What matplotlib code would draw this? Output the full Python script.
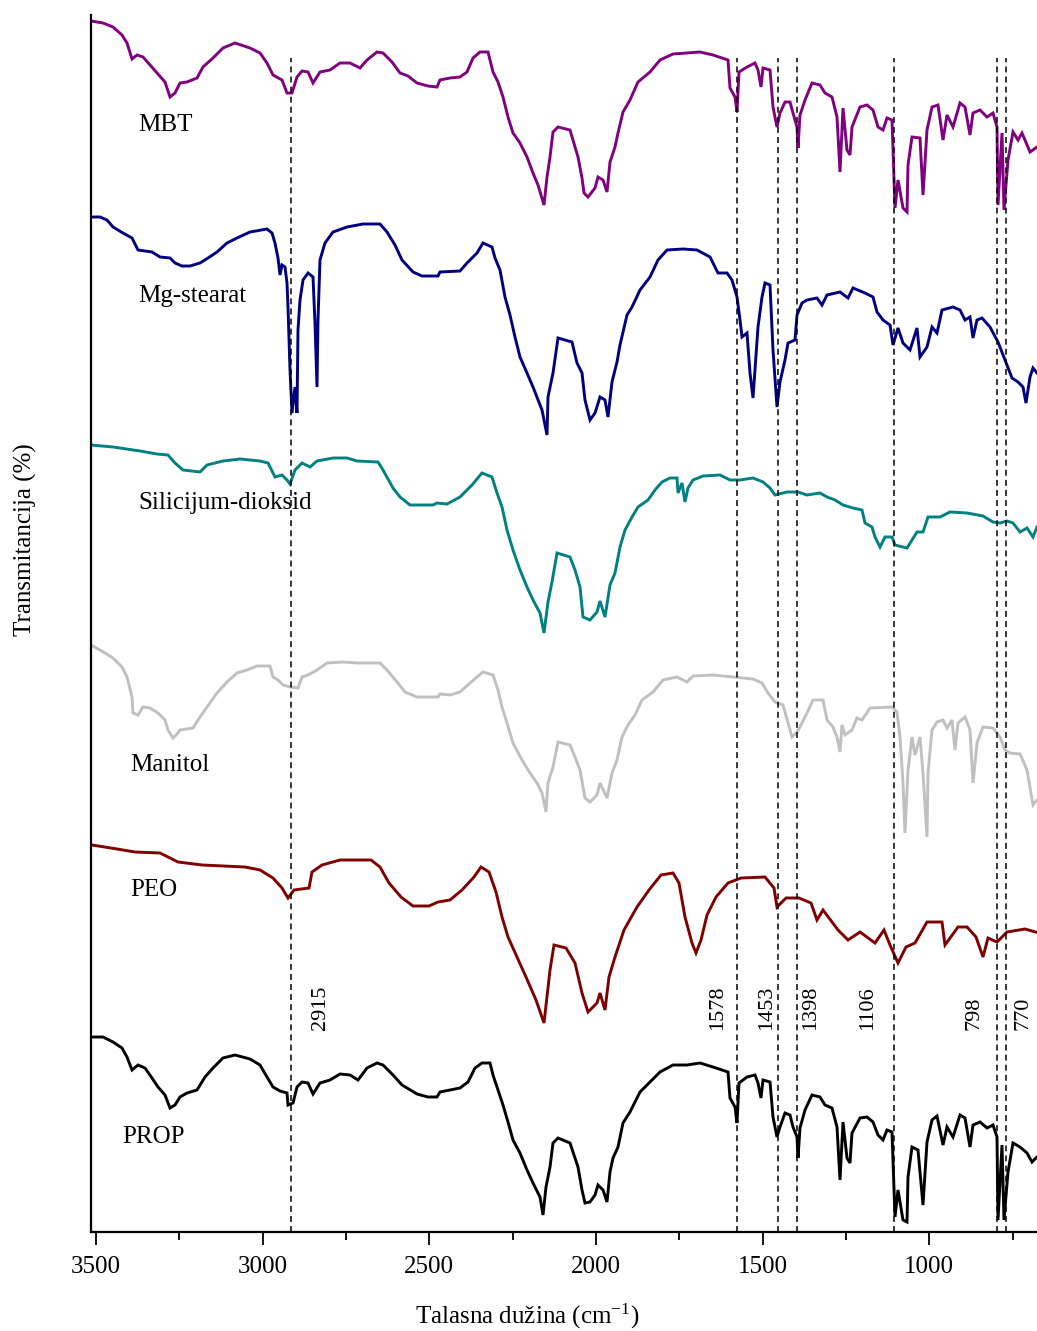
import matplotlib
matplotlib.use("Agg")
import matplotlib.pyplot as plt

plt.rcParams['font.family'] = ['Liberation Serif', 'DejaVu Serif']
plt.rcParams['mathtext.fontset'] = 'custom'
plt.rcParams['mathtext.rm'] = 'Liberation Serif'
plt.rcParams['mathtext.it'] = 'Liberation Serif:italic'

# ---------------- data (wavenumber cm-1, transmittance a.u., stacked) ----------------
mbt_wn = [3515, 3479, 3449, 3422, 3407, 3392, 3377, 3359, 3338, 3317, 3293, 3278, 3263, 3248, 3227, 3197,
          3179, 3149, 3119, 3083, 3038, 3008, 2987, 2969, 2942, 2927, 2912, 2897, 2882, 2864, 2849, 2828,
          2798, 2768, 2738, 2708, 2687, 2657, 2639, 2612, 2588, 2564, 2537, 2504, 2477, 2468, 2438, 2408,
          2387, 2369, 2348, 2324, 2309, 2294, 2279, 2264, 2249, 2228, 2207, 2189, 2174, 2156, 2147, 2138,
          2129, 2114, 2078, 2069, 2054, 2042, 2036, 2024, 2003, 1994, 1979, 1967, 1958, 1943, 1934, 1919,
          1898, 1874, 1838, 1808, 1769, 1727, 1688, 1649, 1604, 1598, 1583, 1577, 1571, 1547, 1523, 1514,
          1505, 1499, 1478, 1469, 1457, 1448, 1433, 1418, 1409, 1397, 1394, 1388, 1373, 1352, 1328, 1313,
          1292, 1277, 1268, 1259, 1247, 1238, 1232, 1208, 1187, 1169, 1154, 1139, 1127, 1112, 1109, 1103,
          1094, 1079, 1067, 1064, 1052, 1028, 1019, 1007, 992, 974, 959, 947, 929, 908, 893, 878,
          869, 848, 827, 809, 797, 794, 782, 776, 764, 749, 734, 722, 698, 677]
mbt_t = [1211, 1209, 1205, 1197, 1189, 1173, 1177, 1175, 1167, 1159, 1150, 1135, 1139, 1149, 1150, 1154,
         1165, 1174, 1184, 1189, 1184, 1179, 1169, 1157, 1152, 1139, 1139, 1155, 1161, 1160, 1149, 1160,
         1162, 1169, 1169, 1164, 1172, 1180, 1179, 1170, 1159, 1156, 1149, 1146, 1145, 1152, 1154, 1155,
         1160, 1174, 1180, 1180, 1160, 1150, 1135, 1115, 1099, 1089, 1075, 1059, 1047, 1027, 1055, 1075,
         1100, 1105, 1102, 1092, 1075, 1054, 1039, 1035, 1044, 1055, 1052, 1040, 1070, 1085, 1099, 1120,
         1132, 1150, 1160, 1172, 1178, 1179, 1180, 1177, 1172, 1144, 1135, 1120, 1160, 1165, 1169, 1162,
         1145, 1164, 1162, 1125, 1105, 1119, 1130, 1130, 1119, 1105, 1084, 1117, 1132, 1149, 1147, 1139,
         1135, 1115, 1060, 1124, 1082, 1077, 1105, 1125, 1127, 1122, 1105, 1102, 1114, 1112, 1082, 1024,
         1052, 1024, 1020, 1067, 1095, 1094, 1037, 1102, 1125, 1127, 1092, 1117, 1105, 1129, 1125, 1097,
         1119, 1122, 1115, 1119, 1105, 1027, 1099, 1022, 1072, 1100, 1092, 1099, 1080, 1085]

mg_wn = [3515, 3488, 3467, 3449, 3419, 3392, 3374, 3332, 3308, 3278, 3263, 3242, 3218, 3188, 3164, 3137,
         3107, 3077, 3038, 2987, 2972, 2963, 2954, 2948, 2942, 2933, 2927, 2924, 2918, 2912, 2903, 2897,
         2894, 2888, 2879, 2864, 2849, 2843, 2837, 2834, 2828, 2813, 2789, 2747, 2699, 2648, 2627, 2603,
         2582, 2549, 2522, 2474, 2468, 2408, 2387, 2357, 2339, 2312, 2303, 2288, 2273, 2258, 2243, 2228,
         2207, 2189, 2162, 2147, 2144, 2129, 2114, 2072, 2057, 2042, 2033, 2018, 2003, 1988, 1973, 1964,
         1952, 1937, 1928, 1907, 1892, 1868, 1838, 1814, 1787, 1739, 1697, 1658, 1634, 1607, 1592, 1577,
         1568, 1562, 1547, 1538, 1529, 1514, 1502, 1493, 1478, 1469, 1457, 1448, 1433, 1424, 1403, 1397,
         1382, 1367, 1337, 1322, 1307, 1268, 1244, 1229, 1193, 1169, 1157, 1139, 1118, 1109, 1094, 1079,
         1058, 1037, 1028, 1007, 992, 977, 962, 929, 908, 893, 878, 869, 857, 842, 818, 794,
         773, 752, 734, 719, 710, 698, 689, 677]
mg_t = [1015, 1015, 1012, 1005, 999, 994, 982, 980, 975, 974, 969, 966, 966, 969, 974, 980,
        989, 994, 1000, 1003, 999, 989, 974, 957, 967, 965, 949, 925, 862, 819, 845, 819,
        902, 932, 952, 959, 955, 909, 845, 912, 972, 989, 1000, 1005, 1008, 1008, 1000, 987,
        972, 960, 956, 956, 960, 961, 969, 979, 989, 985, 974, 962, 935, 917, 895, 875,
        859, 845, 822, 797, 835, 859, 894, 890, 869, 859, 832, 812, 819, 835, 832, 815,
        850, 870, 887, 917, 925, 942, 955, 972, 982, 983, 982, 975, 959, 959, 952, 935,
        912, 895, 899, 859, 834, 905, 935, 949, 947, 882, 825, 850, 872, 889, 892, 917,
        929, 932, 934, 927, 937, 940, 934, 944, 939, 935, 920, 912, 907, 887, 904, 889,
        882, 904, 875, 885, 905, 899, 922, 925, 922, 912, 915, 894, 912, 914, 905, 890,
        872, 854, 850, 845, 829, 855, 864, 859]

si_wn = [3515, 3449, 3368, 3317, 3284, 3263, 3239, 3188, 3167, 3119, 3068, 3008, 2984, 2963, 2942, 2927,
         2918, 2903, 2882, 2858, 2837, 2789, 2747, 2717, 2654, 2639, 2609, 2588, 2558, 2489, 2477, 2447,
         2408, 2372, 2342, 2312, 2297, 2282, 2267, 2249, 2228, 2207, 2189, 2168, 2156, 2144, 2132, 2117,
         2078, 2063, 2048, 2039, 2018, 1997, 1988, 1973, 1958, 1943, 1928, 1913, 1892, 1874, 1844, 1823,
         1802, 1778, 1757, 1754, 1742, 1733, 1724, 1709, 1679, 1628, 1598, 1568, 1529, 1499, 1478, 1463,
         1427, 1394, 1367, 1328, 1307, 1283, 1259, 1229, 1202, 1193, 1172, 1163, 1148, 1133, 1112, 1103,
         1079, 1067, 1052, 1037, 1019, 1004, 968, 938, 887, 839, 809, 788, 767, 749, 728, 707,
         689, 677]
si_t = [787, 785, 781, 778, 777, 769, 762, 760, 767, 771, 773, 771, 769, 755, 757, 752,
        748, 762, 769, 765, 771, 774, 774, 771, 770, 762, 744, 735, 727, 727, 729, 728,
        735, 747, 759, 755, 739, 725, 702, 682, 662, 645, 632, 619, 599, 630, 650, 679,
        675, 662, 645, 615, 612, 620, 631, 615, 647, 659, 685, 702, 715, 725, 732, 742,
        750, 754, 754, 739, 749, 730, 744, 752, 756, 757, 752, 752, 754, 750, 744, 737,
        740, 740, 737, 739, 735, 732, 727, 724, 722, 709, 705, 695, 685, 695, 695, 687,
        685, 684, 692, 700, 700, 715, 715, 720, 719, 716, 710, 709, 711, 709, 700, 704,
        695, 705]

man_wn = [3515, 3488, 3449, 3422, 3407, 3392, 3389, 3374, 3359, 3338, 3314, 3293, 3284, 3269, 3254, 3248,
          3209, 3188, 3167, 3137, 3107, 3077, 3047, 3017, 2978, 2969, 2954, 2939, 2918, 2894, 2882, 2864,
          2837, 2807, 2759, 2717, 2648, 2627, 2597, 2573, 2537, 2474, 2468, 2438, 2408, 2378, 2339, 2309,
          2294, 2282, 2267, 2249, 2222, 2198, 2177, 2162, 2150, 2144, 2129, 2114, 2078, 2063, 2048, 2033,
          2018, 1997, 1988, 1967, 1952, 1937, 1922, 1904, 1883, 1862, 1829, 1799, 1757, 1727, 1709, 1649,
          1589, 1529, 1502, 1484, 1463, 1439, 1424, 1412, 1397, 1388, 1367, 1349, 1319, 1307, 1289, 1277,
          1268, 1262, 1253, 1232, 1217, 1202, 1178, 1112, 1097, 1088, 1079, 1073, 1064, 1052, 1043, 1028,
          1019, 1007, 1004, 992, 977, 959, 947, 932, 923, 914, 893, 878, 869, 857, 839, 809,
          788, 773, 758, 728, 707, 689, 677]
man_t = [587, 582, 574, 565, 555, 535, 519, 517, 525, 524, 519, 512, 502, 494, 499, 502,
         504, 515, 525, 539, 550, 559, 562, 566, 566, 555, 552, 547, 545, 544, 555, 557,
         562, 569, 570, 569, 569, 562, 550, 540, 535, 535, 538, 537, 540, 549, 560, 557,
         542, 525, 509, 489, 472, 459, 449, 439, 420, 449, 465, 490, 487, 475, 462, 434,
         430, 437, 449, 434, 459, 472, 495, 507, 517, 532, 540, 552, 555, 550, 556, 557,
         555, 553, 549, 539, 530, 527, 509, 495, 500, 505, 519, 532, 532, 512, 505, 495,
         480, 507, 497, 502, 514, 512, 524, 525, 520, 495, 449, 399, 462, 495, 477, 495,
         459, 395, 459, 502, 510, 512, 504, 512, 482, 509, 515, 502, 449, 489, 505, 504,
         495, 482, 479, 478, 462, 427, 432]

peo_wn = [3512, 3455, 3383, 3308, 3254, 3182, 3053, 3008, 2969, 2942, 2924, 2906, 2861, 2852, 2822, 2768,
          2675, 2648, 2621, 2585, 2549, 2501, 2474, 2438, 2402, 2366, 2345, 2321, 2300, 2282, 2264, 2237,
          2210, 2180, 2156, 2138, 2126, 2090, 2063, 2042, 2024, 1997, 1988, 1973, 1961, 1943, 1916, 1877,
          1841, 1805, 1769, 1751, 1733, 1712, 1700, 1685, 1667, 1640, 1604, 1565, 1493, 1466, 1457, 1430,
          1391, 1355, 1337, 1319, 1274, 1244, 1208, 1163, 1136, 1118, 1094, 1070, 1043, 1007, 962, 953,
          914, 887, 860, 839, 824, 797, 767, 713, 671]
peo_t = [387, 384, 380, 379, 370, 367, 365, 362, 354, 344, 334, 342, 344, 360, 367, 372,
         372, 365, 349, 335, 326, 326, 330, 332, 342, 355, 365, 360, 340, 315, 295, 275,
         255, 232, 209, 262, 287, 284, 269, 239, 220, 229, 239, 222, 255, 275, 302, 325,
         342, 357, 359, 349, 315, 289, 279, 292, 317, 335, 349, 354, 355, 344, 325, 334,
         334, 329, 312, 322, 302, 292, 300, 289, 302, 287, 269, 285, 289, 310, 310, 287,
         305, 305, 295, 275, 294, 290, 300, 303, 299]

prop_wn = [3515, 3479, 3449, 3422, 3407, 3392, 3374, 3353, 3332, 3314, 3293, 3278, 3263, 3248, 3227, 3197,
           3173, 3149, 3119, 3083, 3038, 3008, 2987, 2969, 2948, 2927, 2924, 2909, 2897, 2882, 2864, 2849,
           2828, 2798, 2768, 2738, 2714, 2687, 2657, 2639, 2609, 2582, 2537, 2504, 2477, 2468, 2408, 2384,
           2363, 2342, 2318, 2309, 2294, 2279, 2264, 2249, 2228, 2207, 2189, 2168, 2159, 2150, 2138, 2129,
           2114, 2078, 2069, 2054, 2042, 2033, 2018, 2003, 1994, 1979, 1967, 1958, 1949, 1934, 1919, 1898,
           1868, 1838, 1808, 1769, 1727, 1688, 1649, 1604, 1598, 1583, 1577, 1571, 1547, 1523, 1514, 1505,
           1499, 1478, 1469, 1457, 1448, 1433, 1418, 1409, 1397, 1394, 1388, 1373, 1352, 1328, 1313, 1292,
           1277, 1268, 1259, 1247, 1238, 1232, 1208, 1187, 1169, 1154, 1139, 1127, 1112, 1109, 1103, 1094,
           1079, 1067, 1064, 1052, 1034, 1019, 1007, 992, 977, 959, 947, 929, 908, 893, 878, 869,
           848, 827, 809, 797, 794, 782, 776, 764, 749, 728, 707, 692, 677]
prop_t = [195, 195, 190, 184, 175, 162, 167, 164, 154, 145, 137, 124, 127, 135, 139, 142,
          155, 164, 174, 177, 173, 167, 155, 145, 141, 139, 127, 129, 145, 150, 149, 138,
          149, 152, 158, 157, 152, 164, 169, 167, 157, 147, 138, 135, 135, 140, 144, 150,
          164, 169, 169, 157, 142, 127, 110, 92, 79, 62, 49, 35, 17, 45, 65, 89,
          94, 89, 80, 65, 42, 29, 30, 37, 47, 42, 30, 60, 74, 85, 109, 120,
          140, 150, 160, 167, 167, 169, 165, 160, 134, 125, 109, 149, 155, 157, 149, 134,
          152, 150, 115, 95, 105, 119, 117, 105, 95, 74, 104, 122, 137, 135, 127, 124,
          105, 52, 110, 74, 69, 99, 114, 115, 110, 97, 92, 102, 100, 72, 15, 42,
          12, 10, 55, 85, 82, 27, 90, 112, 116, 87, 105, 95, 117, 114, 85, 107,
          110, 104, 107, 95, 12, 87, 12, 60, 89, 85, 79, 70, 75]

series_names = ['MBT', 'Mg-stearat', 'Silicijum-dioksid', 'Manitol', 'PEO', 'PROP']
series_colors = ['#800080', '#000080', '#008080', '#C0C0C0', '#800000', '#000000']
label_wn = [3374, 3374, 3374, 3398, 3398, 3422]
label_t = [1107, 936, 729, 467, 342, 95]

peak_wn = [2915, 1578, 1453, 1398, 1106, 798, 770]
peak_label_wn = [2828, 1634, 1487, 1355, 1184, 866, 719]
peak_top = 1174
peak_label_t = 202

xticks_major = [3500, 3000, 2500, 2000, 1500, 1000]
xticks_minor = [3250, 2750, 2250, 1750, 1250, 750]

# ---------------- figure ----------------
W, H = 1037, 1331
fig = plt.figure(figsize=(W / 100, H / 100), dpi=100)
ax = fig.add_axes([91 / W, 99 / H, 946 / W, 1217 / H])

all_wn = [mbt_wn, mg_wn, si_wn, man_wn, peo_wn, prop_wn]
all_t = [mbt_t, mg_t, si_t, man_t, peo_t, prop_t]
for wn, t, c in zip(all_wn, all_t, series_colors):
    ax.plot(wn, t, color=c, lw=2.1, solid_joinstyle='miter')

for name, lx, ly in zip(series_names, label_wn, label_t):
    ax.text(lx, ly, name, fontsize=18, va='center', ha='left', color='black')

ax.vlines(peak_wn, 0, peak_top, colors='black', linestyles=(0, (3.9, 2.7)), lw=1.1)
for pw, lw_ in zip(peak_wn, peak_label_wn):
    ax.text(lw_, peak_label_t, str(pw), rotation=90, fontsize=16, ha='center', va='bottom')

ax.set_xlim(3515, 677)
ax.set_ylim(0, 1217)
ax.set_xticks(xticks_major)
ax.set_xticks(xticks_minor, minor=True)
ax.set_yticks([])
ax.tick_params(axis='x', which='major', length=9, width=1.3, labelsize=18, pad=8, direction='out')
ax.tick_params(axis='x', which='minor', length=6, width=1.3, direction='out')
for s in ['top', 'right']:
    ax.spines[s].set_visible(False)
for s in ['left', 'bottom']:
    ax.spines[s].set_linewidth(1.6)

ax.set_xlabel('Talasna dužina (cm$^{-1}$)', fontsize=18)
ax.xaxis.set_label_coords(0.461, -0.069)
ax.xaxis.label.set_va('center')
ax.set_ylabel('Transmitancija (%)', fontsize=18)
ax.yaxis.set_label_coords(-0.0698, 0.569)
ax.yaxis.label.set_va('center')

fig.savefig('out.png', dpi=100)
